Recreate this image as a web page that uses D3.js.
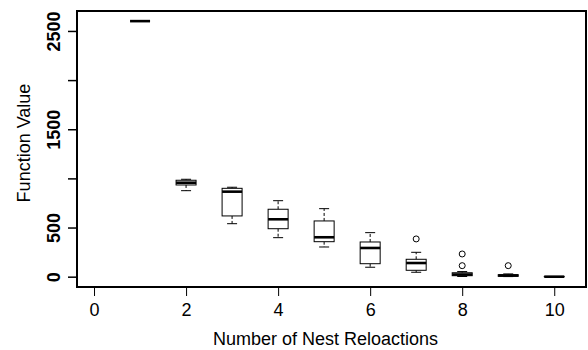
<!DOCTYPE html>
<html>
<head>
<meta charset="utf-8">
<script src="https://cdn.jsdelivr.net/npm/d3@7"></script>
<style>
  body { margin: 0; background: #fff; }
  text { font-family: "Liberation Sans", Arial, sans-serif; }
</style>
</head>
<body>
<div id="chart"></div>
<script>
// number of nest relocations (box positions)
const relocations = [1, 2, 3, 4, 5, 6, 7, 8, 9, 10];
// five-number summaries
const whiskerLow  = [2600, 875, 539, 397, 302,  96,  45,  2,  1, 0];
const quartile1   = [2600, 933, 618, 488, 356, 132,  65, 10,  4, 0];
const medians     = [2600, 956, 865, 584, 401, 292, 139, 22, 12, 0];
const quartile3   = [2600, 981, 899, 686, 567, 353, 177, 40, 20, 1];
const whiskerHigh = [2600, 991, 910, 773, 692, 448, 248, 52, 28, 1];
const outliers    = [[], [], [], [], [], [], [384], [112, 231], [112], []];

const xTicks = [0, 2, 4, 6, 8, 10];
const yTicks = [0, 500, 1000, 1500, 2000, 2500];
const yTickLabels = ["0", "500", "", "1500", "", "2500"];

const width = 588, height = 350;
const plot = { left: 77, right: 586, top: 11, bottom: 287 };

const svg = d3.select("#chart").append("svg")
    .attr("width", width).attr("height", height);

const x = d3.scaleLinear().domain([-0.37, 10.69]).range([plot.left, plot.right]);
const y = d3.scaleLinear().domain([-105, 2703]).range([plot.bottom, plot.top]);

const boxHalf = 10, capHalf = 5;

const boxes = relocations.map((r, i) => ({
    r, lo: whiskerLow[i], q1: quartile1[i], med: medians[i],
    q3: quartile3[i], hi: whiskerHigh[i], out: outliers[i]
}));

const g = svg.append("g");

// whiskers (dashed, like R)
g.selectAll(".wh").data(boxes).enter().append("path")
    .attr("d", d => `M${x(d.r)},${y(d.q3)}V${y(d.hi)}M${x(d.r)},${y(d.q1)}V${y(d.lo)}`)
    .attr("stroke", "#000").attr("stroke-width", 1)
    .attr("stroke-dasharray", "3,2").attr("fill", "none");

// staples
g.selectAll(".st").data(boxes).enter().append("path")
    .attr("d", d => `M${x(d.r) - capHalf},${y(d.hi)}H${x(d.r) + capHalf}M${x(d.r) - capHalf},${y(d.lo)}H${x(d.r) + capHalf}`)
    .attr("stroke", "#000").attr("stroke-width", 1).attr("fill", "none");

// boxes
g.selectAll(".bx").data(boxes).enter().append("rect")
    .attr("x", d => x(d.r) - boxHalf)
    .attr("y", d => y(d.q3))
    .attr("width", boxHalf * 2)
    .attr("height", d => Math.max(0, y(d.q1) - y(d.q3)))
    .attr("fill", "#fff").attr("stroke", "#000").attr("stroke-width", 1);

// medians
g.selectAll(".md").data(boxes).enter().append("line")
    .attr("x1", d => x(d.r) - boxHalf).attr("x2", d => x(d.r) + boxHalf)
    .attr("y1", d => y(d.med)).attr("y2", d => y(d.med))
    .attr("stroke", "#000").attr("stroke-width", 2.6);

// outliers
const pts = boxes.flatMap(d => d.out.map(v => ({ r: d.r, v })));
g.selectAll(".ol").data(pts).enter().append("circle")
    .attr("cx", d => x(d.r)).attr("cy", d => y(d.v)).attr("r", 3)
    .attr("fill", "none").attr("stroke", "#000").attr("stroke-width", 1);

// plot frame
svg.append("rect")
    .attr("x", plot.left).attr("y", plot.top)
    .attr("width", plot.right - plot.left).attr("height", plot.bottom - plot.top)
    .attr("fill", "none").attr("stroke", "#000").attr("stroke-width", 2);

// x axis
const xAxis = svg.append("g")
    .attr("transform", `translate(0,${plot.bottom})`)
    .call(d3.axisBottom(x).tickValues(xTicks).tickSize(9).tickPadding(7));
xAxis.select(".domain").remove();
xAxis.selectAll("text").style("font-size", "18px").attr("fill", "#000")
    .style("font-family", '"Liberation Sans", Arial, sans-serif');

// y axis
const yAxis = svg.append("g")
    .attr("transform", `translate(${plot.left},0)`)
    .call(d3.axisLeft(y).tickValues(yTicks).tickSize(9)
        .tickFormat((d, i) => yTickLabels[i]));
yAxis.select(".domain").remove();
yAxis.selectAll(".tick line").attr("stroke-width", 1.5);
yAxis.selectAll("text")
    .attr("x", null).attr("dy", null)
    .attr("transform", "translate(-17,0) rotate(-90)")
    .style("text-anchor", "middle")
    .style("font-size", "18px").style("font-weight", "bold").attr("fill", "#000")
    .style("font-family", '"Liberation Sans", Arial, sans-serif');

// axis titles
svg.append("text")
    .attr("x", (plot.left + plot.right) / 2 - 6).attr("y", 345)
    .attr("text-anchor", "middle").style("font-size", "18px")
    .text("Number of Nest Reloactions");

svg.append("text")
    .attr("transform", `translate(30,${(plot.top + plot.bottom) / 2 - 6}) rotate(-90)`)
    .attr("text-anchor", "middle").style("font-size", "18px")
    .text("Function Value");
</script>
</body>
</html>
